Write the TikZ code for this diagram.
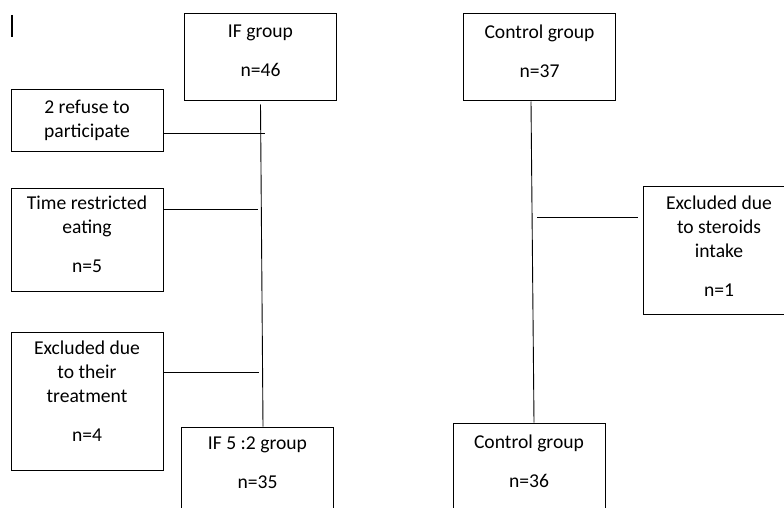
\documentclass[tikz,border=0pt]{standalone}
\usepackage{fontspec}
\setmainfont{Carlito}
\usepackage{tikz}
\usetikzlibrary{positioning, calc}

\tikzset{
  box/.style={draw, line width=1pt, align=center, inner sep=0pt,
    minimum width=152pt, font=\fontsize{19.6}{24}\selectfont},
  link/.style={line width=0.9pt}
}

\begin{document}
\begin{tikzpicture}[x=1pt, y=-1pt]
  \path[use as bounding box, fill=white] (0,0) rectangle (784,508);
  \clip (0,0) rectangle (784,508);
  \draw[line width=1.3pt] (12,15) -- (12,37);
  % IF arm
  \node[box, minimum height=87pt, text depth=13pt] (ifg) at (260.5,57.5) {IF group\\[15pt]n=46};
  \node[box, minimum height=61pt] (refuse) at (87,120.5) {2 refuse to\\participate};
  \node[box, minimum height=103pt, text depth=10pt] (tre) at (87,239.5) {Time restricted\\eating\\[15pt]n=5};
  \node[box, minimum height=138pt, text depth=19pt] (excl) at (87,401) {Excluded due\\to their\\treatment\\[15pt]n=4};
  \node[box, minimum height=87pt, text depth=15pt] (ifb) at (257.5,470.5) {IF 5 :2 group\\[15pt]n=35};
  % Control arm
  \node[box, minimum height=87pt, text depth=13pt] (ctl) at (539.5,57.5) {Control group\\[15pt]n=37};
  \node[box, minimum height=128pt, text depth=8pt] (steroid) at (719,250) {Excluded due\\to steroids\\intake\\[15pt]n=1};
  \node[box, minimum height=87pt, text depth=11pt] (ctlb) at (529,466.5) {Control group\\[15pt]n=36};
  % connectors
  \coordinate (r1) at (265,133);
  \coordinate (r2) at (258,209);
  \coordinate (r3) at (259,372);
  \coordinate (r4) at (537,217);
  \draw[link] ([yshift=-3pt]ifg.south) -- ([xshift=5.5pt]ifb.north);
  \draw[link] ([xshift=-8.5pt]ctl.south) -- ([xshift=5pt]ctlb.north);
  \draw[link] (refuse.east |- r1) -- (r1);
  \draw[link] (tre.east |- r2) -- (r2);
  \draw[link] (excl.east |- r3) -- (r3);
  \draw[link, shorten >=5pt] (r4) -- (r4 -| steroid.west);
\end{tikzpicture}
\end{document}
